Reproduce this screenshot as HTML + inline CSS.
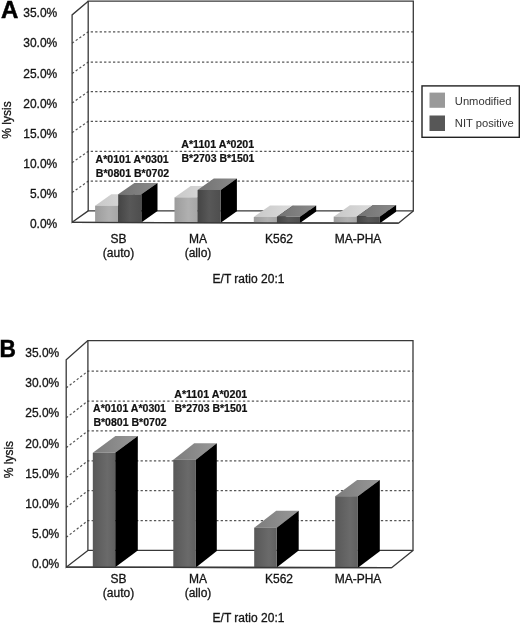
<!DOCTYPE html>
<html><head><meta charset="utf-8"><title>Figure</title>
<style>
html,body{margin:0;padding:0;background:#fff;}
body{width:520px;height:624px;overflow:hidden;position:relative;}
svg{position:absolute;left:0;top:0;display:block;}
text{font-family:"Liberation Sans",Arial,Helvetica,sans-serif;fill:#141414;stroke:#141414;stroke-width:0.3px;}
.t{font-size:12px;}
.b{font-size:10px;font-weight:bold;fill:#111;stroke:#111;stroke-width:0.2px;}
.l{font-size:11.2px;fill:#333;stroke:none;}
.p{font-size:24px;font-weight:bold;fill:#000;stroke:#000;stroke-width:0.5px;}
</style></head><body>
<svg width="520" height="624" viewBox="0 0 520 624">
<defs>
<linearGradient id="gl" x1="0" x2="1" y1="0" y2="0"><stop offset="0" stop-color="#9c9c9c"/><stop offset="0.6" stop-color="#b0b0b0"/><stop offset="1" stop-color="#a6a6a6"/></linearGradient>
<linearGradient id="glt" x1="0" x2="1" y1="0" y2="0"><stop offset="0" stop-color="#c8c8c8"/><stop offset="1" stop-color="#dcdcdc"/></linearGradient>
<linearGradient id="gd" x1="0" x2="1" y1="0" y2="0"><stop offset="0" stop-color="#444"/><stop offset="0.5" stop-color="#585858"/><stop offset="1" stop-color="#4e4e4e"/></linearGradient>
<linearGradient id="gdt" x1="0" x2="1" y1="0" y2="0"><stop offset="0" stop-color="#727272"/><stop offset="1" stop-color="#8a8a8a"/></linearGradient>
<linearGradient id="gb" x1="0" x2="1" y1="0" y2="0"><stop offset="0" stop-color="#585858"/><stop offset="0.65" stop-color="#6a6a6a"/><stop offset="1" stop-color="#606060"/></linearGradient>
<linearGradient id="gbt" x1="0" x2="1" y1="0" y2="0"><stop offset="0" stop-color="#7c7c7c"/><stop offset="1" stop-color="#989898"/></linearGradient>
</defs>
<rect width="520" height="624" fill="#fff"/>

<path d="M72.10 192.60 L88.20 181.20 L413.30 181.20" fill="none" stroke="#555" stroke-width="1.2" stroke-dasharray="2.3 2.15"/>
<path d="M72.10 162.70 L88.20 151.30 L413.30 151.30" fill="none" stroke="#555" stroke-width="1.2" stroke-dasharray="2.3 2.15"/>
<path d="M72.10 132.70 L88.20 121.30 L413.30 121.30" fill="none" stroke="#555" stroke-width="1.2" stroke-dasharray="2.3 2.15"/>
<path d="M72.10 103.00 L88.20 91.60 L413.30 91.60" fill="none" stroke="#555" stroke-width="1.2" stroke-dasharray="2.3 2.15"/>
<path d="M72.10 73.50 L88.20 62.10 L413.30 62.10" fill="none" stroke="#555" stroke-width="1.2" stroke-dasharray="2.3 2.15"/>
<path d="M72.10 43.20 L88.20 31.80 L413.30 31.80" fill="none" stroke="#555" stroke-width="1.2" stroke-dasharray="2.3 2.15"/>
<path d="M88.20 1.20 L413.30 1.20 L413.30 210.90 L88.20 210.90 Z" fill="none" stroke="#383838" stroke-width="1.3"/>
<path d="M88.20 1.20 L72.10 14.90 L72.10 222.30 L88.20 210.90" fill="none" stroke="#383838" stroke-width="1.3"/>
<path d="M72.10 222.30 L398.40 223.20 L413.30 210.90" fill="none" stroke="#383838" stroke-width="1.3" stroke-linejoin="round"/>
<polygon points="95.10,205.70 118.20,205.70 134.40,194.30 111.30,194.30" fill="url(#glt)" />
<polygon points="118.20,205.70 134.40,194.30 134.40,211.03 118.20,222.43" fill="#000" />
<rect x="95.10" y="205.70" width="23.10" height="16.73" fill="url(#gl)"/>
<polygon points="118.20,194.30 141.30,194.30 157.50,182.90 134.40,182.90" fill="url(#gdt)" />
<polygon points="141.30,194.30 157.50,182.90 157.50,211.09 141.30,222.49" fill="#000" />
<rect x="118.20" y="194.30" width="23.10" height="28.19" fill="url(#gd)"/>
<polygon points="174.50,197.40 197.60,197.40 213.80,186.00 190.70,186.00" fill="url(#glt)" />
<polygon points="197.60,197.40 213.80,186.00 213.80,211.25 197.60,222.65" fill="#000" />
<rect x="174.50" y="197.40" width="23.10" height="25.25" fill="url(#gl)"/>
<polygon points="197.60,190.00 220.70,190.00 236.90,178.60 213.80,178.60" fill="url(#gdt)" />
<polygon points="220.70,190.00 236.90,178.60 236.90,211.31 220.70,222.71" fill="#000" />
<rect x="197.60" y="190.00" width="23.10" height="32.71" fill="url(#gd)"/>
<polygon points="253.80,217.00 276.90,217.00 293.10,205.60 270.00,205.60" fill="url(#glt)" />
<polygon points="276.90,217.00 293.10,205.60 293.10,211.46 276.90,222.86" fill="#000" />
<rect x="253.80" y="217.00" width="23.10" height="5.86" fill="url(#gl)"/>
<polygon points="276.90,216.80 300.00,216.80 316.20,205.40 293.10,205.40" fill="url(#gdt)" />
<polygon points="300.00,216.80 316.20,205.40 316.20,211.53 300.00,222.93" fill="#000" />
<rect x="276.90" y="216.80" width="23.10" height="6.13" fill="url(#gd)"/>
<polygon points="333.70,216.70 356.80,216.70 373.00,205.30 349.90,205.30" fill="url(#glt)" />
<polygon points="356.80,216.70 373.00,205.30 373.00,211.69 356.80,223.09" fill="#000" />
<rect x="333.70" y="216.70" width="23.10" height="6.39" fill="url(#gl)"/>
<polygon points="356.80,216.40 379.90,216.40 396.10,205.00 373.00,205.00" fill="url(#gdt)" />
<polygon points="379.90,216.40 396.10,205.00 396.10,211.75 379.90,223.15" fill="#000" />
<rect x="356.80" y="216.40" width="23.10" height="6.75" fill="url(#gd)"/>
<path d="M72.10 222.30 L398.40 223.20" stroke="#383838" stroke-width="1.3"/>
<text class="t" x="57.3" y="228.00" text-anchor="end">0.0%</text>
<text class="t" x="57.3" y="197.90" text-anchor="end">5.0%</text>
<text class="t" x="57.3" y="167.80" text-anchor="end">10.0%</text>
<text class="t" x="57.3" y="137.70" text-anchor="end">15.0%</text>
<text class="t" x="57.3" y="107.60" text-anchor="end">20.0%</text>
<text class="t" x="57.3" y="77.50" text-anchor="end">25.0%</text>
<text class="t" x="57.3" y="47.40" text-anchor="end">30.0%</text>
<text class="t" x="57.3" y="17.30" text-anchor="end">35.0%</text>
<text class="t" transform="translate(10.8 120) rotate(-90)" text-anchor="middle">% lysis</text>
<text class="p" x="1" y="18.4">A</text>
<text class="t" x="118.5" y="243" text-anchor="middle">SB</text>
<text class="t" x="118.5" y="257.3" text-anchor="middle">(auto)</text>
<text class="t" x="198" y="243" text-anchor="middle">MA</text>
<text class="t" x="198" y="257.3" text-anchor="middle">(allo)</text>
<text class="t" x="279" y="243" text-anchor="middle">K562</text>
<text class="t" x="358" y="243" text-anchor="middle">MA-PHA</text>
<text class="t" x="248.5" y="283.4" text-anchor="middle">E/T ratio 20:1</text>
<rect x="422" y="85.9" width="97.3" height="51.4" fill="#fff" stroke="#222" stroke-width="1.4"/>
<rect x="429.5" y="92.6" width="15.5" height="15.2" fill="#999"/>
<rect x="429.5" y="115.5" width="15.5" height="15.5" fill="#575757"/>
<text class="l" x="454.8" y="104.7">Unmodified</text>
<text class="l" x="454.8" y="127.2">NIT positive</text>
<path d="M66.20 537.33 L87.90 520.53 L413.00 520.53" fill="none" stroke="#555" stroke-width="1.2" stroke-dasharray="2.3 2.15"/>
<path d="M66.20 507.46 L87.90 490.66 L413.00 490.66" fill="none" stroke="#555" stroke-width="1.2" stroke-dasharray="2.3 2.15"/>
<path d="M66.20 477.59 L87.90 460.79 L413.00 460.79" fill="none" stroke="#555" stroke-width="1.2" stroke-dasharray="2.3 2.15"/>
<path d="M66.20 447.72 L87.90 430.92 L413.00 430.92" fill="none" stroke="#555" stroke-width="1.2" stroke-dasharray="2.3 2.15"/>
<path d="M66.20 417.85 L87.90 401.05 L413.00 401.05" fill="none" stroke="#555" stroke-width="1.2" stroke-dasharray="2.3 2.15"/>
<path d="M66.20 387.98 L87.90 371.18 L413.00 371.18" fill="none" stroke="#555" stroke-width="1.2" stroke-dasharray="2.3 2.15"/>
<path d="M87.90 340.60 L413.00 340.60 L413.00 550.40 L87.90 550.40 Z" fill="none" stroke="#383838" stroke-width="1.3"/>
<path d="M87.90 340.60 L66.20 359.80 L66.20 567.20 L87.90 550.40" fill="none" stroke="#383838" stroke-width="1.3"/>
<path d="M66.20 567.20 L391.60 567.70 L413.00 550.40" fill="none" stroke="#383838" stroke-width="1.3" stroke-linejoin="round"/>
<polygon points="92.80,452.80 115.20,452.80 137.80,436.00 115.40,436.00" fill="url(#gbt)" />
<polygon points="115.20,452.80 137.80,436.00 137.80,550.48 115.20,567.28" fill="#000" />
<rect x="92.80" y="452.80" width="22.40" height="114.48" fill="url(#gb)"/>
<polygon points="173.30,459.70 195.90,459.70 216.80,443.20 194.20,443.20" fill="url(#gbt)" />
<polygon points="195.90,459.70 216.80,443.20 216.80,550.90 195.90,567.40" fill="#000" />
<rect x="173.30" y="459.70" width="22.60" height="107.70" fill="url(#gb)"/>
<polygon points="254.20,527.70 276.70,527.70 298.70,510.80 276.20,510.80" fill="url(#gbt)" />
<polygon points="276.70,527.70 298.70,510.80 298.70,550.62 276.70,567.52" fill="#000" />
<rect x="254.20" y="527.70" width="22.50" height="39.82" fill="url(#gb)"/>
<polygon points="335.20,496.20 357.90,496.20 379.80,479.90 357.10,479.90" fill="url(#gbt)" />
<polygon points="357.90,496.20 379.80,479.90 379.80,551.35 357.90,567.65" fill="#000" />
<rect x="335.20" y="496.20" width="22.70" height="71.45" fill="url(#gb)"/>
<path d="M66.20 567.20 L391.60 567.70" stroke="#383838" stroke-width="1.3"/>
<text class="t" x="59.3" y="568.30" text-anchor="end">0.0%</text>
<text class="t" x="59.3" y="538.13" text-anchor="end">5.0%</text>
<text class="t" x="59.3" y="507.96" text-anchor="end">10.0%</text>
<text class="t" x="59.3" y="477.79" text-anchor="end">15.0%</text>
<text class="t" x="59.3" y="447.62" text-anchor="end">20.0%</text>
<text class="t" x="59.3" y="417.45" text-anchor="end">25.0%</text>
<text class="t" x="59.3" y="387.28" text-anchor="end">30.0%</text>
<text class="t" x="59.3" y="357.11" text-anchor="end">35.0%</text>
<text class="t" transform="translate(13.3 459.6) rotate(-90)" text-anchor="middle">% lysis</text>
<text class="p" x="-0.6" y="357" textLength="16.4" lengthAdjust="spacingAndGlyphs">B</text>
<text class="t" x="118.5" y="582.6" text-anchor="middle">SB</text>
<text class="t" x="118.5" y="597" text-anchor="middle">(auto)</text>
<text class="t" x="198" y="582.6" text-anchor="middle">MA</text>
<text class="t" x="198" y="597" text-anchor="middle">(allo)</text>
<text class="t" x="279" y="582.6" text-anchor="middle">K562</text>
<text class="t" x="358" y="582.6" text-anchor="middle">MA-PHA</text>
<text class="t" x="248.5" y="622.3" text-anchor="middle">E/T ratio 20:1</text>
<text class="b" x="95.60" y="162.90" textLength="73.10" lengthAdjust="spacingAndGlyphs">A*0101 A*0301</text>
<text class="b" x="95.80" y="176.90" textLength="73.40" lengthAdjust="spacingAndGlyphs">B*0801 B*0702</text>
<text class="b" x="181.30" y="147.70" textLength="72.90" lengthAdjust="spacingAndGlyphs">A*1101 A*0201</text>
<text class="b" x="181.50" y="161.90" textLength="72.90" lengthAdjust="spacingAndGlyphs">B*2703 B*1501</text>
<text class="b" x="93.10" y="411.50" textLength="72.90" lengthAdjust="spacingAndGlyphs">A*0101 A*0301</text>
<text class="b" x="93.40" y="425.80" textLength="73.30" lengthAdjust="spacingAndGlyphs">B*0801 B*0702</text>
<text class="b" x="174.20" y="397.70" textLength="73.10" lengthAdjust="spacingAndGlyphs">A*1101 A*0201</text>
<text class="b" x="174.50" y="412.30" textLength="72.90" lengthAdjust="spacingAndGlyphs">B*2703 B*1501</text>
</svg></body></html>
